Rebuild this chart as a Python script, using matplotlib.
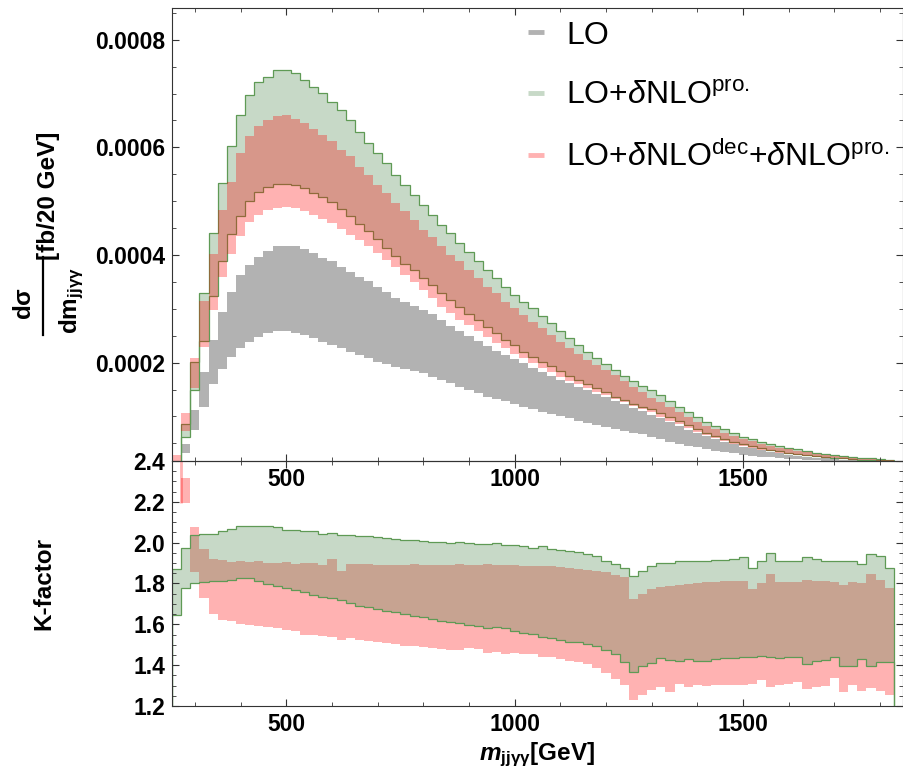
import numpy as np
import matplotlib
matplotlib.use('Agg')
import matplotlib.pyplot as plt
from matplotlib.lines import Line2D
from matplotlib.ticker import MultipleLocator, FixedLocator, FormatStrFormatter

plt.rcParams['font.family'] = 'Liberation Sans'
plt.rcParams['font.weight'] = 'bold'
plt.rcParams['mathtext.fontset'] = 'custom'
plt.rcParams['mathtext.rm'] = 'Liberation Sans:regular'
plt.rcParams['mathtext.it'] = 'Liberation Sans:italic:regular'
plt.rcParams['mathtext.bf'] = 'Liberation Sans:bold'
HAS_BFIT = 'mathtext.bfit' in plt.rcParams
if HAS_BFIT:
    plt.rcParams['mathtext.bfit'] = 'Liberation Sans:italic:bold'

# 20 GeV bins in m_jjyy
BIN_W = 20
edges = np.arange(250, 1830 + BIN_W, BIN_W)

# top panel, dsigma/dm in units of 1e-4 fb/20 GeV
SCALE = 1e-4
lo_low = np.array([
    0.05, 0.316, 0.74, 1.18, 1.60, 1.88, 2.11, 2.27, 2.39, 2.48, 2.55, 2.58, 2.58,
    2.55, 2.51, 2.45, 2.39, 2.33, 2.27, 2.20, 2.14, 2.08, 2.02, 1.97, 1.92, 1.88,
    1.84, 1.80, 1.74, 1.68, 1.62, 1.55, 1.49, 1.43, 1.37, 1.33, 1.28, 1.23, 1.18, 1.14,
    1.09, 1.05, 1.01, 0.966, 0.922, 0.885, 0.842, 0.811, 0.768, 0.731, 0.700, 0.669, 0.62,
    0.58, 0.532, 0.495, 0.458, 0.427, 0.396, 0.365, 0.340, 0.316, 0.291, 0.272, 0.253, 0.241,
    0.229, 0.216, 0.204, 0.191, 0.185, 0.179, 0.173, 0.167, 0.160, 0.154, 0.154, 0.148, 0.148])
lo_high = np.array([
    0.12, 0.489, 1.12, 1.83, 2.43, 2.95, 3.31, 3.62, 3.82, 3.97, 4.08, 4.16, 4.17,
    4.16, 4.11, 4.03, 3.95, 3.88, 3.78, 3.69, 3.60, 3.51, 3.41, 3.31, 3.21, 3.12,
    3.05, 2.98, 2.90, 2.79, 2.69, 2.59, 2.50, 2.40, 2.31, 2.22, 2.14, 2.06, 1.99, 1.91,
    1.83, 1.76, 1.68, 1.62, 1.55, 1.49, 1.425, 1.36, 1.295, 1.23, 1.165, 1.10, 1.035,
    0.97, 0.891, 0.823, 0.749, 0.687, 0.631, 0.576, 0.526, 0.483, 0.439, 0.408, 0.371, 0.340,
    0.316, 0.291, 0.272, 0.253, 0.235, 0.222, 0.210, 0.198, 0.191, 0.185, 0.179, 0.173, 0.167])
pro_low = np.array([
    0.08, 0.625, 1.49, 2.41, 3.23, 3.88, 4.39, 4.73, 5.00, 5.17, 5.27, 5.32, 5.32,
    5.31, 5.24, 5.16, 5.08, 4.98, 4.86, 4.72, 4.58, 4.44, 4.29, 4.13, 3.98, 3.84,
    3.72, 3.58, 3.44, 3.29, 3.17, 3.04, 2.91, 2.79, 2.67, 2.55, 2.42, 2.33, 2.20, 2.11,
    2.02, 1.93, 1.85, 1.76, 1.68, 1.60, 1.52, 1.45, 1.37, 1.31, 1.24, 1.18, 1.14,
    1.071, 0.984, 0.916, 0.842, 0.761, 0.699, 0.644, 0.588, 0.532, 0.489, 0.452, 0.414, 0.383,
    0.352, 0.328, 0.303, 0.284, 0.266, 0.247, 0.235, 0.222, 0.210, 0.198, 0.191, 0.185, 0.179])
pro_high = np.array([
    0.15, 0.855, 2.02, 3.29, 4.41, 5.34, 6.03, 6.60, 6.98, 7.21, 7.30, 7.44, 7.43,
    7.38, 7.25, 7.13, 7.01, 6.85, 6.70, 6.51, 6.29, 6.08, 5.89, 5.71, 5.49, 5.30,
    5.12, 4.93, 4.745, 4.56, 4.40, 4.22, 4.06, 3.89, 3.73, 3.57, 3.41, 3.26, 3.13, 3.01,
    2.87, 2.73, 2.58, 2.45, 2.33, 2.20, 2.09, 1.98, 1.87, 1.76, 1.66, 1.57, 1.49,
    1.40, 1.29, 1.183, 1.090, 0.984, 0.904, 0.829, 0.761, 0.687, 0.625, 0.582, 0.532, 0.489,
    0.452, 0.421, 0.390, 0.359, 0.328, 0.303, 0.284, 0.266, 0.247, 0.235, 0.222, 0.210, 0.198])
dec_low = np.array([
    0.05, 0.73, 1.52, 2.30, 2.98, 3.60, 4.01, 4.36, 4.62, 4.74, 4.84, 4.88, 4.90,
    4.87, 4.81, 4.74, 4.66, 4.59, 4.48, 4.37, 4.28, 4.16, 4.03, 3.91, 3.78, 3.63,
    3.49, 3.35, 3.20, 3.04, 2.92, 2.79, 2.70, 2.58, 2.47, 2.36, 2.27, 2.17, 2.08, 1.99,
    1.91, 1.82, 1.74, 1.66, 1.60, 1.52, 1.46, 1.40, 1.32, 1.26, 1.20, 1.14, 1.09,
    0.997, 0.922, 0.854, 0.780, 0.706, 0.650, 0.594, 0.544, 0.495, 0.452, 0.421, 0.383, 0.352,
    0.328, 0.303, 0.284, 0.266, 0.247, 0.235, 0.222, 0.210, 0.198, 0.191, 0.185, 0.179, 0.173])
dec_high = np.array([
    0.28, 1.065, 2.08, 3.15, 4.02, 4.84, 5.36, 5.89, 6.21, 6.39, 6.50, 6.59, 6.60,
    6.52, 6.45, 6.34, 6.23, 6.11, 5.95, 5.84, 5.64, 5.49, 5.30, 5.15, 4.96, 4.81,
    4.65, 4.47, 4.34, 4.16, 4.00, 3.88, 3.72, 3.57, 3.41, 3.29, 3.13, 3.01, 2.89, 2.75,
    2.64, 2.51, 2.39, 2.27, 2.16, 2.05, 1.96, 1.86, 1.77, 1.65, 1.55, 1.46, 1.35,
    1.263, 1.170, 1.090, 0.997, 0.904, 0.829, 0.761, 0.699, 0.637, 0.582, 0.544, 0.495, 0.452,
    0.421, 0.390, 0.359, 0.334, 0.303, 0.284, 0.266, 0.247, 0.229, 0.216, 0.204, 0.191, 0.185])

# bottom panel, K-factor bands
kpro_low = np.array([
    1.646, 1.777, 1.802, 1.805, 1.810, 1.813, 1.818, 1.826, 1.826, 1.813, 1.797, 1.790, 1.777,
    1.769, 1.758, 1.744, 1.736, 1.728, 1.717, 1.703, 1.692, 1.684, 1.676, 1.667, 1.659, 1.651,
    1.643, 1.635, 1.627, 1.618, 1.610, 1.605, 1.597, 1.592, 1.584, 1.589, 1.581, 1.569, 1.556,
    1.551, 1.540, 1.531, 1.523, 1.515, 1.512, 1.502, 1.494, 1.474, 1.453, 1.417, 1.364, 1.397,
    1.409, 1.433, 1.425, 1.420, 1.430, 1.420, 1.420, 1.428, 1.433, 1.433, 1.441, 1.441, 1.445,
    1.441, 1.436, 1.441, 1.441, 1.404, 1.420, 1.425, 1.441, 1.397, 1.397, 1.430, 1.397, 1.414, 1.414])
kpro_high = np.array([
    1.871, 1.974, 2.039, 2.044, 2.044, 2.059, 2.069, 2.080, 2.083, 2.080, 2.080, 2.077, 2.064,
    2.064, 2.059, 2.056, 2.044, 2.048, 2.039, 2.039, 2.034, 2.031, 2.028, 2.023, 2.020, 2.015,
    2.015, 2.007, 2.003, 2.003, 1.998, 2.003, 1.998, 1.995, 1.995, 1.998, 1.990, 1.987, 1.982,
    1.974, 1.985, 1.969, 1.966, 1.957, 1.952, 1.946, 1.933, 1.911, 1.895, 1.876, 1.839, 1.859,
    1.884, 1.900, 1.900, 1.908, 1.911, 1.908, 1.911, 1.916, 1.916, 1.921, 1.928, 1.876, 1.911,
    1.949, 1.911, 1.911, 1.908, 1.928, 1.920, 1.911, 1.911, 1.911, 1.908, 1.897, 1.944, 1.933, 1.876])
kdec_low = np.array([
    2.60, 2.195, 1.856, 1.728, 1.649, 1.622, 1.618, 1.600, 1.597, 1.594, 1.589, 1.581, 1.572,
    1.568, 1.548, 1.548, 1.545, 1.540, 1.523, 1.535, 1.523, 1.518, 1.512, 1.507, 1.502, 1.494,
    1.494, 1.491, 1.486, 1.477, 1.474, 1.474, 1.482, 1.477, 1.458, 1.466, 1.455, 1.461, 1.453,
    1.453, 1.441, 1.441, 1.430, 1.422, 1.414, 1.404, 1.384, 1.360, 1.332, 1.305, 1.228, 1.253,
    1.278, 1.294, 1.269, 1.310, 1.294, 1.302, 1.299, 1.302, 1.305, 1.302, 1.305, 1.310, 1.327,
    1.294, 1.305, 1.310, 1.315, 1.283, 1.294, 1.299, 1.338, 1.266, 1.302, 1.273, 1.286, 1.273, 1.256])
kdec_high = np.array([
    2.90, 2.318, 2.075, 1.970, 1.921, 1.916, 1.905, 1.911, 1.905, 1.911, 1.900, 1.900, 1.905,
    1.897, 1.900, 1.900, 1.889, 1.921, 1.862, 1.895, 1.895, 1.895, 1.892, 1.889, 1.892, 1.892,
    1.895, 1.889, 1.892, 1.889, 1.892, 1.897, 1.889, 1.889, 1.895, 1.892, 1.892, 1.889, 1.884,
    1.884, 1.887, 1.884, 1.880, 1.876, 1.872, 1.867, 1.859, 1.856, 1.843, 1.830, 1.725, 1.748,
    1.774, 1.785, 1.790, 1.794, 1.797, 1.802, 1.805, 1.807, 1.810, 1.810, 1.813, 1.774, 1.802,
    1.846, 1.807, 1.807, 1.805, 1.818, 1.813, 1.810, 1.805, 1.794, 1.805, 1.802, 1.846, 1.818, 1.777])

labels = ['LO',
          r'LO+$\delta$NLO$^{\mathrm{pro.}}$',
          r'LO+$\delta$NLO$^{\mathrm{dec}}$+$\delta$NLO$^{\mathrm{pro.}}$']

GRAY = '#b2b2b2'
GREEN = '#468246'
GREEN_LINE = '#5f9a55'
RED = '#ff0000'
ALPHA = 0.3
FRAME = '0.2'
W, H = 904, 774

fig = plt.figure(figsize=(W / 100, H / 100), dpi=100)
ax1 = fig.add_axes([0.1903, 0.4044, 0.8086, 0.5853])
ax2 = fig.add_axes([0.1903, 0.0879, 0.8086, 0.3165])
ax2.patch.set_alpha(0)

# upper panel
ax1.stairs(lo_high * SCALE, edges, baseline=lo_low * SCALE, fill=True, color=GRAY, lw=0)
ax1.stairs(pro_high * SCALE, edges, baseline=pro_low * SCALE, fill=True,
           color=GREEN, alpha=ALPHA, lw=0)
ax1.stairs(pro_high * SCALE, edges, color=GREEN_LINE, lw=0.9)
ax1.stairs(pro_low * SCALE, edges, color=GREEN_LINE, lw=0.9)
ax1.stairs(dec_high * SCALE, edges, baseline=dec_low * SCALE, fill=True,
           color=RED, alpha=ALPHA, lw=0)

# lower panel
ax2.stairs(kdec_high, edges, baseline=kdec_low, fill=True, color=RED, alpha=ALPHA, lw=0)
ax2.vlines(edges[1], kdec_low[1], kdec_low[0], color=RED, alpha=ALPHA, lw=2)
ax2.stairs(kpro_high, edges, baseline=kpro_low, fill=True, color=GREEN, alpha=ALPHA, lw=0)
ax2.stairs(kpro_high, edges, color=GREEN_LINE, lw=0.9)
ax2.stairs(kpro_low, edges, color=GREEN_LINE, lw=0.9)

for ax in (ax1, ax2):
    ax.set_xlim(250, 1850)
    ax.xaxis.set_major_locator(FixedLocator([500, 1000, 1500]))
    ax.xaxis.set_minor_locator(MultipleLocator(100))
    ax.tick_params(which='both', direction='in', top=True, right=True,
                   labelsize=16.5, pad=5, color=FRAME)
    ax.tick_params(which='major', length=5, width=0.8)
    ax.tick_params(which='minor', length=3, width=0.6)
    for s in ax.spines.values():
        s.set_color(FRAME)
        s.set_linewidth(0.8)

ax1.set_ylim(1.73e-5, 8.59e-4)
ax1.yaxis.set_major_locator(FixedLocator([0.0002, 0.0004, 0.0006, 0.0008]))
ax1.yaxis.set_minor_locator(MultipleLocator(0.00005))
ax1.yaxis.set_major_formatter(FormatStrFormatter('%.4f'))

ax2.set_ylim(1.2, 2.4)
ax2.yaxis.set_major_locator(MultipleLocator(0.2))
ax2.yaxis.set_minor_locator(MultipleLocator(0.05))
ax2.yaxis.set_major_formatter(FormatStrFormatter('%.1f'))

# y label of the upper panel, written as a fraction: d sigma / d m_jjyy [fb/20 GeV]
fig.text(25 / W, 1 - 303 / H, r'd$\mathbf{\sigma}$', rotation=90,
         ha='center', va='center', fontsize=17.5, fontweight='bold')
fig.add_artist(Line2D([43 / W, 43 / W], [1 - 257 / H, 1 - 335 / H],
                      transform=fig.transFigure, color='black', lw=1.6))
fig.text(72 / W, 1 - 301 / H, r'dm$_{\mathbf{jj\gamma\gamma}}$', rotation=90,
         ha='center', va='center', fontsize=17.5, fontweight='bold')
fig.text(49 / W, 1 - 196 / H, '[fb/20 GeV]', rotation=90,
         ha='center', va='center', fontsize=17.5, fontweight='bold')

ax2.set_ylabel('K-factor', fontsize=17.5, fontweight='bold')
ax2.yaxis.set_label_coords(-0.159, 0.5)
if HAS_BFIT:
    xl = r'$\mathbfit{m}_{\mathbf{jj\gamma\gamma}}$[GeV]'
else:
    xl = r'$m_{\mathbf{jj\gamma\gamma}}$[GeV]'
ax2.set_xlabel(xl, fontsize=17.5, fontweight='bold', va='top')
ax2.xaxis.set_label_coords(0.5, -0.14)

handles = [Line2D([], [], color=GRAY, lw=3.5, solid_capstyle='butt'),
           Line2D([], [], color='#c7d9c7', lw=3.5, solid_capstyle='butt'),
           Line2D([], [], color='#ffb2b2', lw=3.5, solid_capstyle='butt')]
ax1.legend(handles, labels, loc='upper left', bbox_to_anchor=(0.487, 0.972),
           frameon=False, borderpad=0, borderaxespad=0, handlelength=0.5,
           handletextpad=0.7, labelspacing=0.95,
           prop={'family': 'Liberation Sans', 'weight': 'normal', 'size': 23})

fig.savefig('out.png', dpi=100)
